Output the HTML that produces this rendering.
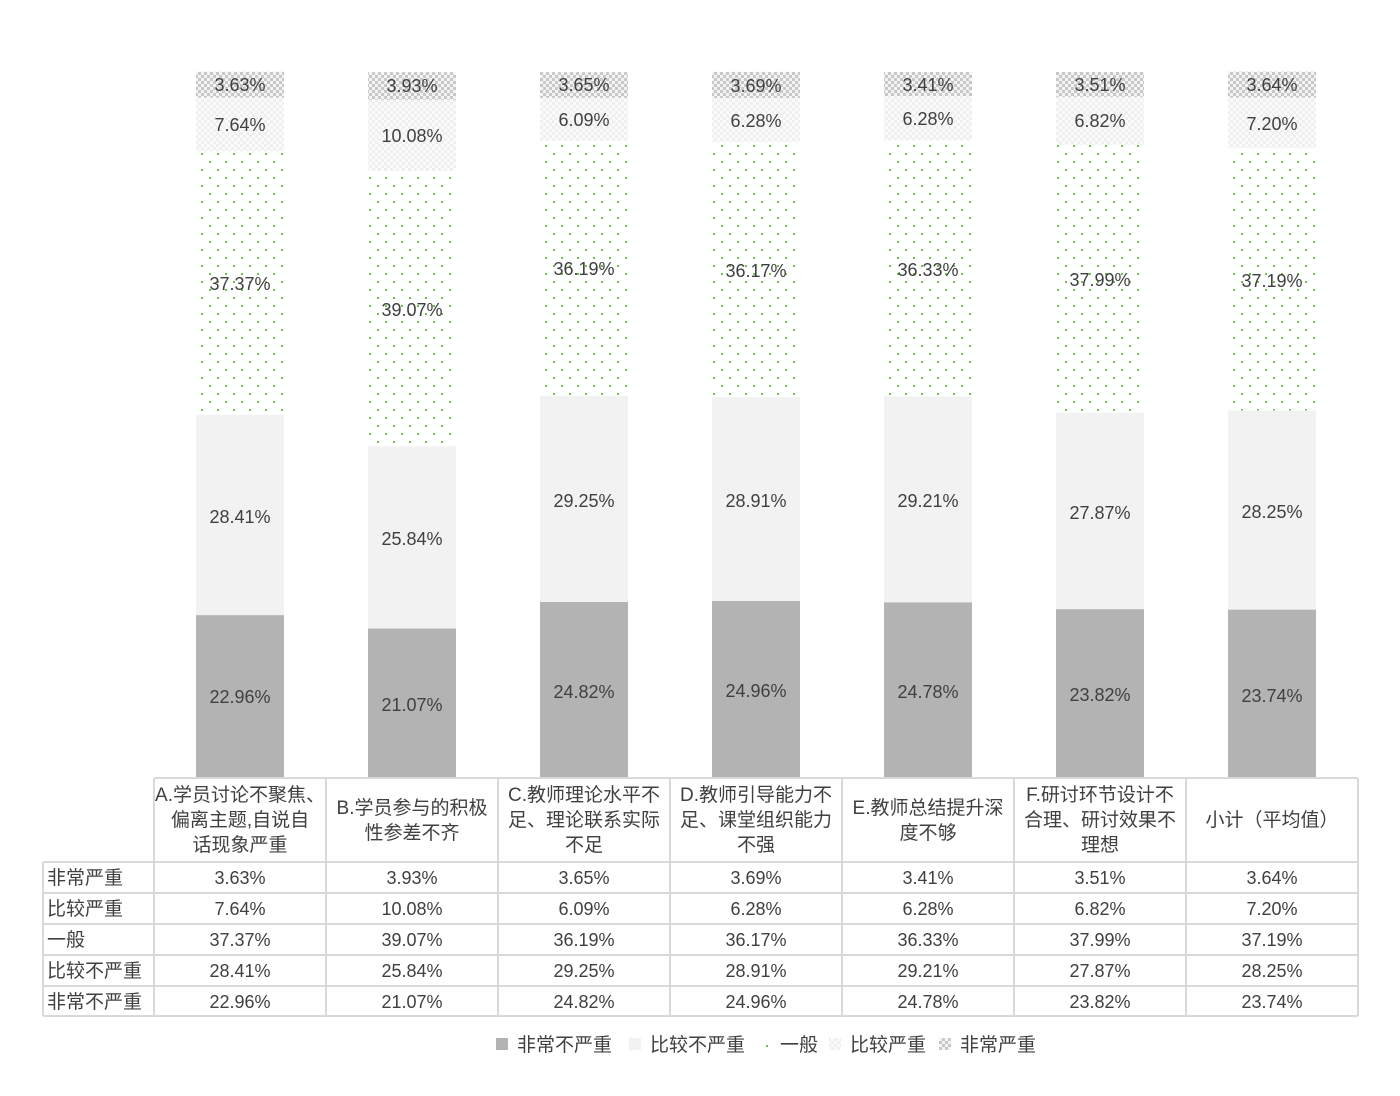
<!DOCTYPE html>
<html><head><meta charset="utf-8"><style>
html,body{margin:0;padding:0;background:#fff;}
svg text{font-family:"Liberation Sans","Noto Sans CJK SC",sans-serif;fill:#404040;}
</style></head><body>
<svg width="1400" height="1091" viewBox="0 0 1400 1091" xmlns="http://www.w3.org/2000/svg">
<defs>
<pattern id="g" width="16" height="16" patternUnits="userSpaceOnUse"><rect x="1" y="1" width="2" height="2" fill="#6cc04a"/><rect x="9" y="9" width="2" height="2" fill="#6cc04a"/></pattern>
<pattern id="c" width="6" height="6" patternUnits="userSpaceOnUse"><rect width="6" height="6" fill="#fbfbfb"/><rect width="3" height="3" fill="#efefef"/><rect x="3" y="3" width="3" height="3" fill="#efefef"/></pattern>
<pattern id="d" width="6" height="6" patternUnits="userSpaceOnUse"><rect width="6" height="6" fill="#f4f4f4"/><rect width="3" height="3" fill="#c8c8c8"/><rect x="3" y="3" width="3" height="3" fill="#c8c8c8"/></pattern>
</defs>
<g id="bars" font-size="18" text-anchor="middle">
<rect x="196" y="615.1" width="88" height="161.9" fill="#b3b3b3"/>
<rect x="196" y="414.8" width="88" height="200.3" fill="#f2f2f2"/>
<rect x="196" y="151.3" width="88" height="263.5" fill="url(#g)"/>
<rect x="196" y="97.4" width="88" height="53.9" fill="url(#c)"/>
<rect x="196" y="71.8" width="88" height="25.6" fill="url(#d)"/>
<text x="240" y="703">22.96%</text><text x="240" y="523">28.41%</text><text x="240" y="290">37.37%</text><text x="240" y="131">7.64%</text><text x="240" y="91">3.63%</text>
<rect x="368" y="628.5" width="88" height="148.5" fill="#b3b3b3"/>
<rect x="368" y="446.3" width="88" height="182.2" fill="#f2f2f2"/>
<rect x="368" y="170.9" width="88" height="275.4" fill="url(#g)"/>
<rect x="368" y="99.8" width="88" height="71.1" fill="url(#c)"/>
<rect x="368" y="72.1" width="88" height="27.7" fill="url(#d)"/>
<text x="412" y="711">21.07%</text><text x="412" y="545">25.84%</text><text x="412" y="316">39.07%</text><text x="412" y="142">10.08%</text><text x="412" y="92">3.93%</text>
<rect x="540" y="602" width="88" height="175" fill="#b3b3b3"/>
<rect x="540" y="395.8" width="88" height="206.2" fill="#f2f2f2"/>
<rect x="540" y="140.7" width="88" height="255.1" fill="url(#g)"/>
<rect x="540" y="97.8" width="88" height="42.9" fill="url(#c)"/>
<rect x="540" y="72.1" width="88" height="25.7" fill="url(#d)"/>
<text x="584" y="698">24.82%</text><text x="584" y="507">29.25%</text><text x="584" y="275">36.19%</text><text x="584" y="126">6.09%</text><text x="584" y="91">3.65%</text>
<rect x="712" y="601" width="88" height="176" fill="#b3b3b3"/>
<rect x="712" y="397.2" width="88" height="203.8" fill="#f2f2f2"/>
<rect x="712" y="142.2" width="88" height="255" fill="url(#g)"/>
<rect x="712" y="97.9" width="88" height="44.3" fill="url(#c)"/>
<rect x="712" y="71.9" width="88" height="26" fill="url(#d)"/>
<text x="756" y="697">24.96%</text><text x="756" y="507">28.91%</text><text x="756" y="277">36.17%</text><text x="756" y="127">6.28%</text><text x="756" y="92">3.69%</text>
<rect x="884" y="602.3" width="88" height="174.7" fill="#b3b3b3"/>
<rect x="884" y="396.4" width="88" height="205.9" fill="#f2f2f2"/>
<rect x="884" y="140.3" width="88" height="256.1" fill="url(#g)"/>
<rect x="884" y="96" width="88" height="44.3" fill="url(#c)"/>
<rect x="884" y="72" width="88" height="24" fill="url(#d)"/>
<text x="928" y="698">24.78%</text><text x="928" y="507">29.21%</text><text x="928" y="276">36.33%</text><text x="928" y="125">6.28%</text><text x="928" y="91">3.41%</text>
<rect x="1056" y="609.1" width="88" height="167.9" fill="#b3b3b3"/>
<rect x="1056" y="412.6" width="88" height="196.5" fill="#f2f2f2"/>
<rect x="1056" y="144.8" width="88" height="267.8" fill="url(#g)"/>
<rect x="1056" y="96.7" width="88" height="48.1" fill="url(#c)"/>
<rect x="1056" y="72" width="88" height="24.7" fill="url(#d)"/>
<text x="1100" y="701">23.82%</text><text x="1100" y="519">27.87%</text><text x="1100" y="286">37.99%</text><text x="1100" y="127">6.82%</text><text x="1100" y="91">3.51%</text>
<rect x="1228" y="609.6" width="88" height="167.4" fill="#b3b3b3"/>
<rect x="1228" y="410.4" width="88" height="199.2" fill="#f2f2f2"/>
<rect x="1228" y="148.2" width="88" height="262.2" fill="url(#g)"/>
<rect x="1228" y="97.4" width="88" height="50.8" fill="url(#c)"/>
<rect x="1228" y="71.7" width="88" height="25.7" fill="url(#d)"/>
<text x="1272" y="702">23.74%</text><text x="1272" y="518">28.25%</text><text x="1272" y="287">37.19%</text><text x="1272" y="130">7.20%</text><text x="1272" y="91">3.64%</text>
</g>
<g stroke="#d9d9d9" stroke-width="2" fill="none">
<path d="M154 778H1358M43 862H1358M43 893H1358M43 924H1358M43 955H1358M43 986H1358M43 1016H1358"/>
<path d="M43 862V1016M154 778V1016M326 778V1016M498 778V1016M670 778V1016M842 778V1016M1014 778V1016M1186 778V1016M1358 778V1016"/>
</g>
<g font-size="19" text-anchor="middle">
<text x="240" y="801">A.学员讨论不聚焦、</text><text x="240" y="826">偏离主题,自说自</text><text x="240" y="851">话现象严重</text>
<text x="412" y="814">B.学员参与的积极</text><text x="412" y="839">性参差不齐</text>
<text x="584" y="801">C.教师理论水平不</text><text x="584" y="826">足、理论联系实际</text><text x="584" y="851">不足</text>
<text x="756" y="801">D.教师引导能力不</text><text x="756" y="826">足、课堂组织能力</text><text x="756" y="851">不强</text>
<text x="928" y="814">E.教师总结提升深</text><text x="928" y="839">度不够</text>
<text x="1100" y="801">F.研讨环节设计不</text><text x="1100" y="826">合理、研讨效果不</text><text x="1100" y="851">理想</text>
<text x="1272" y="826">小计（平均值）</text>
</g>
<g font-size="19">
<text x="47" y="884">非常严重</text><text x="47" y="915">比较严重</text><text x="47" y="946">一般</text><text x="47" y="977">比较不严重</text><text x="47" y="1008">非常不严重</text>
</g>
<g font-size="18" text-anchor="middle">
<text x="240" y="884">3.63%</text><text x="412" y="884">3.93%</text><text x="584" y="884">3.65%</text><text x="756" y="884">3.69%</text><text x="928" y="884">3.41%</text><text x="1100" y="884">3.51%</text><text x="1272" y="884">3.64%</text>
<text x="240" y="915">7.64%</text><text x="412" y="915">10.08%</text><text x="584" y="915">6.09%</text><text x="756" y="915">6.28%</text><text x="928" y="915">6.28%</text><text x="1100" y="915">6.82%</text><text x="1272" y="915">7.20%</text>
<text x="240" y="946">37.37%</text><text x="412" y="946">39.07%</text><text x="584" y="946">36.19%</text><text x="756" y="946">36.17%</text><text x="928" y="946">36.33%</text><text x="1100" y="946">37.99%</text><text x="1272" y="946">37.19%</text>
<text x="240" y="977">28.41%</text><text x="412" y="977">25.84%</text><text x="584" y="977">29.25%</text><text x="756" y="977">28.91%</text><text x="928" y="977">29.21%</text><text x="1100" y="977">27.87%</text><text x="1272" y="977">28.25%</text>
<text x="240" y="1008">22.96%</text><text x="412" y="1008">21.07%</text><text x="584" y="1008">24.82%</text><text x="756" y="1008">24.96%</text><text x="928" y="1008">24.78%</text><text x="1100" y="1008">23.82%</text><text x="1272" y="1008">23.74%</text>
</g>
<g font-size="19">
<rect x="496" y="1038" width="12" height="12" fill="#b3b3b3"/><text x="517" y="1051">非常不严重</text>
<rect x="629" y="1038" width="12" height="12" fill="#f2f2f2"/><text x="650" y="1051">比较不严重</text>
<rect x="766" y="1045" width="2" height="2" fill="#6cc04a"/><text x="780" y="1051">一般</text>
<rect x="829" y="1038" width="12" height="12" fill="url(#c)"/><text x="850" y="1051">比较严重</text>
<rect x="939" y="1038" width="12" height="12" fill="url(#d)"/><text x="960" y="1051">非常严重</text>
</g>
</svg>
</body></html>
